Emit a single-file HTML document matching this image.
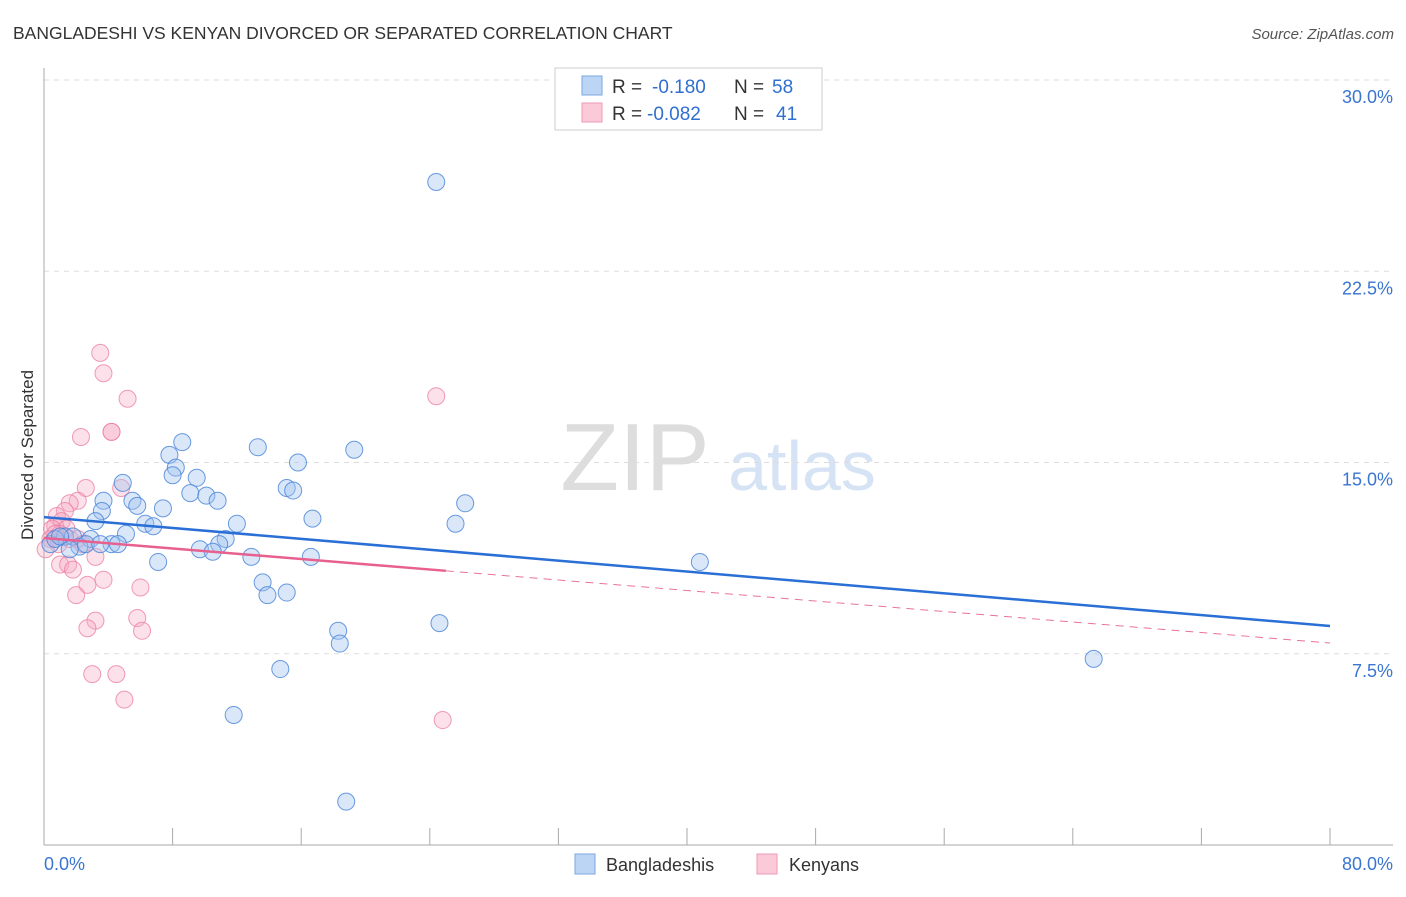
<!DOCTYPE html>
<html><head><meta charset="utf-8"><style>
body{margin:0;background:#fff;font-family:"Liberation Sans",sans-serif;}
svg text{font-family:"Liberation Sans",sans-serif;}
</style></head><body>
<svg id="chart" width="1406" height="892" viewBox="0 0 1406 892" xmlns="http://www.w3.org/2000/svg">
<text x="13" y="39" font-size="17.5" fill="#333">BANGLADESHI VS KENYAN DIVORCED OR SEPARATED CORRELATION CHART</text>
<text x="1394" y="39" font-size="15" fill="#555" text-anchor="end" font-style="italic">Source: ZipAtlas.com</text>
<g>
<text x="635" y="490" font-size="96" fill="#ddd" text-anchor="middle" font-family="Liberation Serif">ZIP</text>
<text x="802" y="490" font-size="70" fill="#d5e3f5" text-anchor="middle">atlas</text>
</g>
<g id="grid"></g>
<g id="axes"></g>
<g id="marks"></g>
<text transform="translate(33,455) rotate(-90)" font-size="17" fill="#333" text-anchor="middle">Divorced or Separated</text>
<g>
<rect x="555" y="68" width="267" height="62" fill="#fff" stroke="#ccc"/>
<rect x="582" y="76" width="20" height="19" fill="#bcd5f5" stroke="#7aa7e0"/>
<rect x="582" y="103" width="20" height="19" fill="#fbcad8" stroke="#ee9ab5"/>
<text x="612" y="93" font-size="19" fill="#333">R = </text>
<text x="652" y="93" font-size="19" fill="#2f6fd0">-0.180</text>
<text x="734" y="93" font-size="19" fill="#333">N = </text>
<text x="772" y="93" font-size="19" fill="#2f6fd0">58</text>
<text x="612" y="120" font-size="19" fill="#333">R = </text>
<text x="647" y="120" font-size="19" fill="#2f6fd0">-0.082</text>
<text x="734" y="120" font-size="19" fill="#333">N = </text>
<text x="776" y="120" font-size="19" fill="#2f6fd0">41</text>
</g>
<g>
<rect x="575" y="854" width="20" height="20" fill="#bcd5f5" stroke="#7aa7e0"/>
<text x="606" y="871" font-size="18" fill="#333">Bangladeshis</text>
<rect x="757" y="854" width="20" height="20" fill="#fbcad8" stroke="#ee9ab5"/>
<text x="789" y="871" font-size="18" fill="#333">Kenyans</text>
</g>
</svg>
<script>
const blueX=[24.4,8.6,13.3,19.3,7.8,15.8,8.2,8.0,9.5,4.9,15.1,15.5,9.1,10.1,3.7,5.5,10.8,5.8,26.2,7.4,3.6,16.7,3.2,6.3,6.8,12.0,25.6,5.1,11.3,1.3,1.8,2.9,4.2,10.9,2.2,9.7,10.5,12.9,16.6,7.1,40.8,13.6,13.9,15.1,18.3,24.6,18.4,14.7,65.3,11.8,18.8,0.4,0.7,1.0,2.6,1.6,3.5,4.6];
const blueY=[26.0,15.8,15.6,15.5,15.3,15.0,14.8,14.5,14.4,14.2,14.0,13.9,13.8,13.7,13.5,13.5,13.5,13.3,13.4,13.2,13.1,12.8,12.7,12.6,12.5,12.6,12.6,12.2,12.0,12.1,12.1,12.0,11.8,11.8,11.7,11.6,11.5,11.3,11.3,11.1,11.1,10.3,9.8,9.9,8.4,8.7,7.9,6.9,7.3,5.1,1.7,11.8,12.0,12.1,11.8,11.6,11.8,11.8];
const pinkX=[3.5,3.7,5.2,24.4,4.2,2.3,2.6,4.8,2.1,1.6,1.3,0.8,0.7,1.1,1.4,0.5,1.0,1.6,2.4,3.2,1.0,1.5,1.8,3.7,2.7,6.0,2.0,3.2,5.8,2.7,6.1,3.0,4.5,5.0,24.8,0.4,0.7,0.9,0.1,2.1,4.2];
const pinkY=[19.3,18.5,17.5,17.6,16.2,16.0,14.0,14.0,13.5,13.4,13.1,12.9,12.5,12.7,12.4,12.4,12.2,12.0,11.8,11.3,11.0,11.0,10.8,10.4,10.2,10.1,9.8,8.8,8.9,8.5,8.4,6.7,6.7,5.7,4.9,12.0,12.2,11.8,11.6,12.0,16.2];
const yTicks=[7.5,15.0,22.5,30.0];
const xTickLabels=["0.0%","80.0%"];
const blueTrend=[12.86,8.59];
const pinkTrend=[12.04,7.92];
const pinkSolidEnd=25;

const NS="http://www.w3.org/2000/svg";
const X=v=>44+v*16.075;
const Y=v=>845-v*25.5;
function mk(tag,attrs,parent){const e=document.createElementNS(NS,tag);for(const k in attrs)e.setAttribute(k,attrs[k]);parent.appendChild(e);return e;}
const grid=document.getElementById('grid'),axes=document.getElementById('axes'),marks=document.getElementById('marks');
yTicks.forEach(t=>{
  const l=mk('line',{x1:44,x2:1393,y1:Y(t),y2:Y(t),stroke:'#ddd','stroke-dasharray':'5,5'},grid);
  
  
  const tx=mk('text',{x:1393,y:Y(t)+23,'font-size':18,fill:'#3a75d0','text-anchor':'end'},axes);
  tx.textContent=t.toFixed(1)+'%';
  
  
});
const xa=mk('line',{x1:44,x2:1393,y1:845,y2:845,stroke:'#aaa'},axes);


const ya=mk('line',{x1:44,x2:44,y1:68,y2:845,stroke:'#aaa'},axes);


for(let i=1;i<=10;i++){
  const t=mk('line',{x1:X(i*8),x2:X(i*8),y1:828,y2:845,stroke:'#aaa'},axes);
  
  
}
const xl0=mk('text',{x:44,y:870,'font-size':18,fill:'#3a75d0'},axes);xl0.textContent=xTickLabels[0];


const xl1=mk('text',{x:1393,y:870,'font-size':18,fill:'#3a75d0','text-anchor':'end'},axes);xl1.textContent=xTickLabels[1];


pinkX.forEach((v,i)=>{
  const c=mk('circle',{cx:X(v),cy:Y(pinkY[i]),r:8.5,fill:'rgba(247,170,195,0.35)',stroke:'rgba(236,130,165,0.8)'},marks);
  
  
});
blueX.forEach((v,i)=>{
  const c=mk('circle',{cx:X(v),cy:Y(blueY[i]),r:8.5,fill:'rgba(160,195,240,0.4)',stroke:'rgba(70,130,215,0.8)'},marks);
  
  
});
const pt=v=>pinkTrend[0]+(pinkTrend[1]-pinkTrend[0])*v/80;
const pd=mk('line',{x1:X(pinkSolidEnd),y1:Y(pt(pinkSolidEnd)),x2:X(80),y2:Y(pinkTrend[1]),stroke:'#e8739a','stroke-width':1,'stroke-dasharray':'8,6'},marks);


const bt=mk('line',{x1:X(0),y1:Y(blueTrend[0]),x2:X(80),y2:Y(blueTrend[1]),stroke:'#2a6fd6','stroke-width':2.5},marks);


const ps=mk('line',{x1:X(0),y1:Y(pinkTrend[0]),x2:X(pinkSolidEnd),y2:Y(pt(pinkSolidEnd)),stroke:'#e8608f','stroke-width':2.5},marks);


</script>
</body></html>
